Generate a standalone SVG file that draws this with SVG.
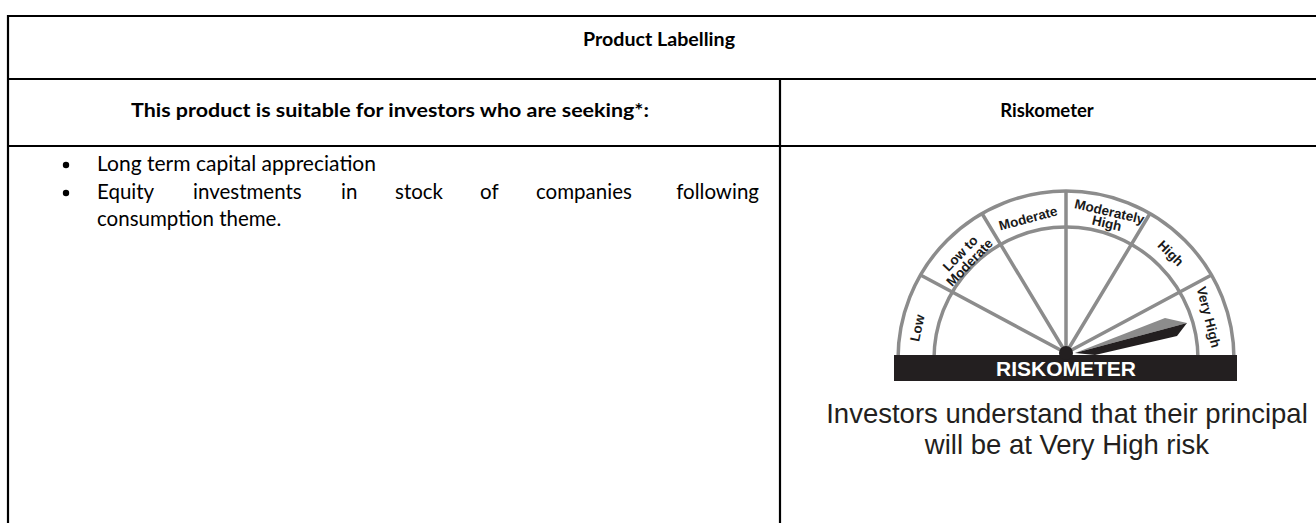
<svg xmlns="http://www.w3.org/2000/svg" width="1316" height="523" viewBox="0 0 1316 523">
<style>
.grid{stroke:#000;stroke-width:2.2;fill:none}
.hd{font-family:Lato,"Liberation Sans",sans-serif;font-weight:700;font-size:18.5px;fill:#000}
.bt{font-family:Lato,"Liberation Sans",sans-serif;font-size:20.5px;fill:#000}
.gl{stroke:#8c8c8c;stroke-width:3.5;fill:none}
.lb{font-family:"Liberation Sans",Arial,sans-serif;font-weight:700;font-size:13.5px;fill:#1a1a1a;text-anchor:middle}
.cap{font-family:"Liberation Sans",Arial,sans-serif;font-size:27.5px;fill:#231f20;text-anchor:middle}
</style>
<rect width="1316" height="523" fill="#fff"/>
<g id="table">
<path class="grid" d="M8,16 H1318 M8,79 H1318 M8,146 H1318 M8,15 V523 M780,79 V523"/>
</g>
<g id="header">
<text class="hd" x="583" y="46" textLength="152" lengthAdjust="spacingAndGlyphs">Product Labelling</text>
</g>
<g id="col-left-head">
<text class="hd" x="131" y="117" textLength="518" lengthAdjust="spacingAndGlyphs">This product is suitable for investors who are seeking*:</text>
</g>
<g id="col-right-head">
<text class="hd" x="1047" y="117" text-anchor="middle">Riskometer</text>
</g>
<g id="bullets">
<circle cx="66" cy="165" r="3.2" fill="#000"/>
<circle cx="66" cy="193" r="3.2" fill="#000"/>
<text class="bt" x="97" y="171" textLength="279" lengthAdjust="spacingAndGlyphs">Long term capital appreciation</text>
<text class="bt" y="199"><tspan x="97">Equity</tspan><tspan x="193">investments</tspan><tspan x="341">in</tspan><tspan x="395">stock</tspan><tspan x="480">of</tspan><tspan x="536">companies</tspan></text>
<text class="bt" x="759" y="199" text-anchor="end">following</text>
<text class="bt" x="97" y="226">consumption theme.</text>
</g>
<g id="riskometer">
<path class="gl" d="M898,359 A168,168 0 0 1 1234,359"/>
<path class="gl" d="M934,359 A132,132 0 0 1 1198,359"/>
<g id="connectors">
<path class="gl" d="M1066,353 L920.5,275 M1066,353 L982,213.5 M1066,353 L1066,191 M1066,353 L1150,213.5 M1066,353 L1211.5,275"/>
</g>
<text class="lb" transform="translate(917,328) rotate(-78)" y="5">Low</text>
<g transform="translate(965,258) rotate(-46)">
<text class="lb" y="-2">Low to</text>
<text class="lb" y="11">Moderate</text>
</g>
<text class="lb" transform="translate(1028,218) rotate(-15)" y="5">Moderate</text>
<g transform="translate(1108,218) rotate(13)">
<text class="lb" y="-2">Moderately</text>
<text class="lb" y="10">High</text>
</g>
<text class="lb" transform="translate(1171,253) rotate(45)" y="5">High</text>
<text class="lb" transform="translate(1209,317) rotate(76)" y="5">Very High</text>
<polygon points="1075,353 1165,318 1187,323" fill="#8c8c8c"/>
<polygon points="1075,353 1187,323 1177,336 1095,355" fill="#231f20"/>
<rect x="894" y="355" width="343" height="26" fill="#231f20"/>
<circle cx="1066" cy="353" r="7" fill="#231f20"/>
<text x="1066" y="376" text-anchor="middle" font-family="'Liberation Sans',Arial,sans-serif" font-weight="700" font-size="21" fill="#fff">RISKOMETER</text>
<text class="cap" x="1067" y="423">Investors understand that their principal</text>
<text class="cap" x="1067" y="454">will be at Very High risk</text>
</g>
</svg>
